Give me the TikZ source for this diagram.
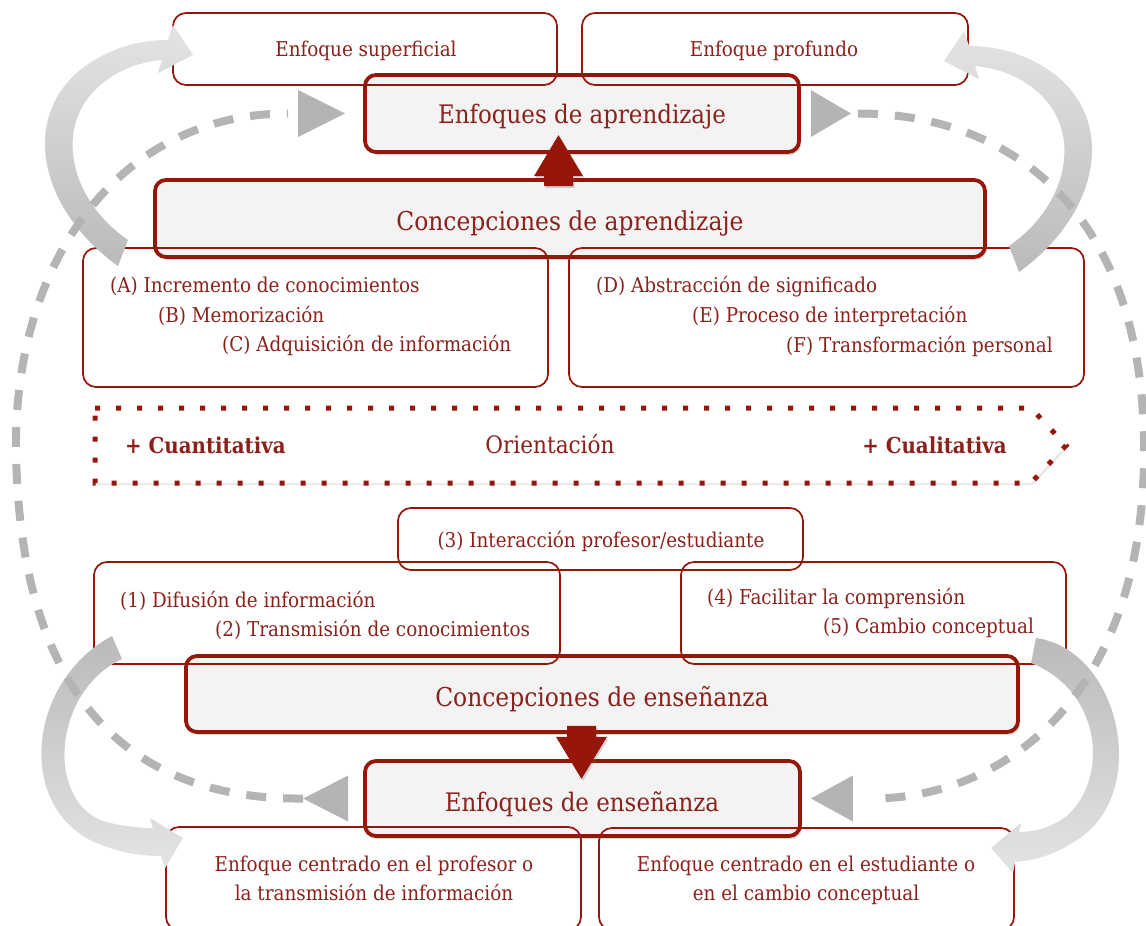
\documentclass[tikz,border=0pt]{standalone}
\usepackage{fontspec}
\setmainfont{DejaVu Serif}[FakeStretch=0.9]
\usetikzlibrary{calc,shadows}

\definecolor{bordo}{RGB}{150,22,10}
\definecolor{tinta}{RGB}{140,32,26}
\definecolor{panel}{RGB}{243,243,243}
\definecolor{trazo}{RGB}{180,180,180}
\definecolor{arcoclaro}{RGB}{228,228,228}
\definecolor{arcooscuro}{RGB}{186,186,186}

\begin{document}
\begin{tikzpicture}[x=1pt,y=-1pt,
  heavybox/.style={draw=bordo, line width=3.8pt, fill=panel, rounded corners=11pt, inner sep=0pt,
    drop shadow={shadow xshift=2pt, shadow yshift=-3pt, opacity=0.25, fill=black!60}},
  lightbox/.style={draw=bordo, line width=1.7pt, rounded corners=13pt, inner sep=0pt},
  lbl/.style={text=tinta, inner sep=0pt, font=\fontsize{20.4}{24}\selectfont},
  headlbl/.style={text=tinta, inner sep=0pt, font=\fontsize{25.5}{30}\selectfont},
  conclbl/.style={text=tinta, inner sep=0pt, font=\fontsize{26}{30}\selectfont},
  sidelbl/.style={text=tinta, inner sep=0pt, font=\fontsize{22}{26}\selectfont\bfseries},
  midlbl/.style={text=tinta, inner sep=0pt, font=\fontsize{24}{28}\selectfont},
  loopline/.style={draw=trazo, line width=8pt, dash pattern=on 20pt off 17pt},
  looptip/.style={fill=trazo},
  blockarrow/.style={fill=bordo, drop shadow={shadow xshift=1.5pt, shadow yshift=-2pt, opacity=0.25, fill=black!60}},
  bandup/.style={top color=arcoclaro, bottom color=arcooscuro},
  banddown/.style={top color=arcooscuro, bottom color=arcoclaro},
  orientframe/.style={draw=bordo, line width=5pt, dash pattern=on 5pt off 16pt, fill=white,
    drop shadow={shadow xshift=2pt, shadow yshift=-2pt, opacity=0.15, fill=black!60}}
]
\useasboundingbox (0,0) rectangle (1146,926);

% heavy boxes
\node[heavybox, minimum width=434pt, minimum height=77pt] (apr) at (582,113.5) {};
\node[heavybox, minimum width=830pt, minimum height=77pt] (capr) at (570,218.5) {};
\node[heavybox, minimum width=832pt, minimum height=76pt] (cens) at (602,694) {};
\node[heavybox, minimum width=435pt, minimum height=75pt] (ens) at (582.5,798.5) {};

% orientation band
\path[orientframe] (95,408) -- (1031,408) -- (1066,445.5) -- (1031,483) -- (95,483) -- cycle;

% light boxes
\node[lightbox, minimum width=384pt, minimum height=72pt] (sup) at (365,49) {};
\node[lightbox, minimum width=386pt, minimum height=72pt] (pro) at (775,49) {};
\node[lightbox, minimum width=465pt, minimum height=139pt] (boxA) at (315.5,317.5) {};
\node[lightbox, minimum width=515pt, minimum height=139pt] (boxD) at (826.5,317.5) {};
\node[lightbox, minimum width=405pt, minimum height=62pt] (inter) at (600.5,539) {};
\node[lightbox, minimum width=466pt, minimum height=102pt] (box12) at (327,613) {};
\node[lightbox, minimum width=385pt, minimum height=102pt] (box45) at (873.5,613) {};
\node[lightbox, minimum width=415pt, minimum height=103pt] (bl) at (373.5,878.5) {};
\node[lightbox, minimum width=415pt, minimum height=102pt] (br) at (806.5,879) {};

% curved grey bands
\path[bandup] (128,240) -- (118,266) .. controls (40,210) and (20,120) .. (80,70)
  .. controls (110,47) and (140,40) .. (168,40) -- (173,25) -- (193,55) -- (158,73) -- (162,60)
  .. controls (140,62) and (115,70) .. (95,90) .. controls (55,130) and (70,200) .. (128,240) -- cycle;
\path[bandup] (1009,246) -- (1019,272) .. controls (1097,216) and (1117,126) .. (1057,76)
  .. controls (1027,53) and (997,46) .. (969,46) -- (964,31) -- (944,61) -- (979,79) -- (975,66)
  .. controls (997,68) and (1022,76) .. (1042,96) .. controls (1082,136) and (1067,206) .. (1009,246) -- cycle;
\path[banddown] (122,659) -- (112,636) .. controls (30,680) and (15,800) .. (90,840)
  .. controls (115,852) and (140,856) .. (161,856) -- (165,868) -- (183,838) -- (150,818) -- (153,828)
  .. controls (135,828) and (115,825) .. (100,820) .. controls (45,795) and (55,690) .. (122,659) -- cycle;
\path[banddown] (1031,663) -- (1036,638) .. controls (1120,650) and (1150,790) .. (1080,838)
  .. controls (1060,852) and (1040,860) .. (1015,862) -- (1013,873) -- (991,848) -- (1021,823) -- (1019,832)
  .. controls (1040,832) and (1055,825) .. (1068,815) .. controls (1110,775) and (1100,690) .. (1031,663) -- cycle;

% dashed loops between the approach boxes
\draw[loopline] ([xshift=-60pt]ens.west) .. controls (150,800) and (20,720) .. (16,450)
  .. controls (14,260) and (120,113.5) .. ([xshift=-75pt]apr.west);
\draw[loopline] ([xshift=57pt]apr.east) .. controls (1000,113.5) and (1140,200) .. (1144,440)
  .. controls (1148,700) and (1000,798.5) .. ([xshift=70pt]ens.east);
\fill[looptip] ([xshift=-18pt]apr.west) -- ([xshift=-65pt,yshift=23.5pt]apr.west) -- ([xshift=-65pt,yshift=-23.5pt]apr.west) -- cycle;
\fill[looptip] ([xshift=50pt]apr.east) -- ([xshift=10pt,yshift=23.5pt]apr.east) -- ([xshift=10pt,yshift=-23.5pt]apr.east) -- cycle;
\fill[looptip] ([xshift=-60pt]ens.west) -- ([xshift=-15pt,yshift=23pt]ens.west) -- ([xshift=-15pt,yshift=-23pt]ens.west) -- cycle;
\fill[looptip] ([xshift=9pt]ens.east) -- ([xshift=51pt,yshift=23pt]ens.east) -- ([xshift=51pt,yshift=-23pt]ens.east) -- cycle;

% red block arrows
\path[blockarrow] ($(capr.north)+(-26,8)$) -- ++(29,0) -- ++(0,-10) -- ++(10,0) -- ++(-24.5,-41)
  -- ++(-24.5,41) -- ++(10,0) -- cycle;
\path[blockarrow] ($(cens.south)+(-35,-8)$) -- ++(29,0) -- ++(0,11) -- ++(11,0) -- ++(-25.5,42)
  -- ++(-25.5,-42) -- ++(11,0) -- cycle;

% labels
\node[lbl, anchor=mid] (tsup) at (366,54) {Enfoque superficial};
\node[lbl, anchor=mid] (tpro) at (774,54) {Enfoque profundo};
\node[headlbl, anchor=mid] (tapr) at (582,121) {Enfoques de aprendizaje};
\node[conclbl, anchor=mid] (tcapr) at (570,228) {Concepciones de aprendizaje};
\node[lbl, anchor=mid west] (tA) at (110,290) {(A) Incremento de conocimientos};
\node[lbl, anchor=mid west] (tB) at (158,320) {(B) Memorización};
\node[lbl, anchor=mid west] (tC) at (222,349) {(C) Adquisición de información};
\node[lbl, anchor=mid west] (tD) at (596,290) {(D) Abstracción de significado};
\node[lbl, anchor=mid west] (tE) at (692,320) {(E) Proceso de interpretación};
\node[lbl, anchor=mid west] (tF) at (786,350) {(F) Transformación personal};
\node[sidelbl, anchor=mid west] (tcuan) at (125,451) {+ Cuantitativa};
\node[midlbl, anchor=mid] (tori) at (550,451) {Orientación};
\node[sidelbl, anchor=mid east] (tcual) at (1007,451) {+ Cualitativa};
\node[lbl, anchor=mid] (t3) at (601,545) {(3) Interacción profesor/estudiante};
\node[lbl, anchor=mid west] (t1) at (120,605) {(1) Difusión de información};
\node[lbl, anchor=mid west] (t2) at (215,634) {(2) Transmisión de conocimientos};
\node[lbl, anchor=mid west] (t4) at (707,602) {(4) Facilitar la comprensión};
\node[lbl, anchor=mid west] (t5) at (823,631) {(5) Cambio conceptual};
\node[conclbl, anchor=mid] (tcens) at (602,704) {Concepciones de enseñanza};
\node[headlbl, anchor=mid] (tens) at (582,809) {Enfoques de enseñanza};
\node[lbl, anchor=mid] (tbl1) at (374,869) {Enfoque centrado en el profesor o};
\node[lbl, anchor=mid] (tbl2) at (374,898) {la transmisión de información};
\node[lbl, anchor=mid] (tbr1) at (806,869) {Enfoque centrado en el estudiante o};
\node[lbl, anchor=mid] (tbr2) at (806,898) {en el cambio conceptual};
\end{tikzpicture}
\end{document}
